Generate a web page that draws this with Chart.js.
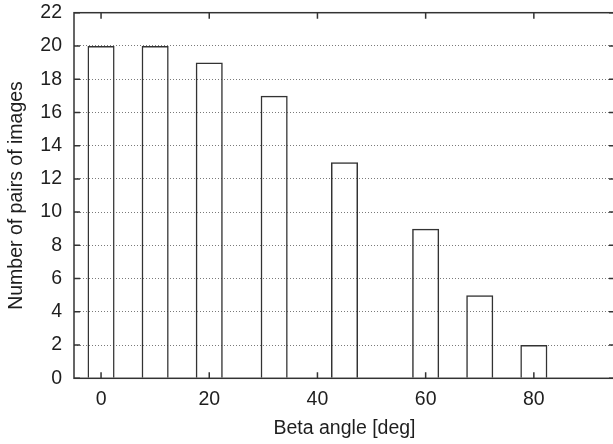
<!DOCTYPE html>
<html>
<head>
<meta charset="utf-8">
<script src="https://cdn.jsdelivr.net/npm/chart.js@4/dist/chart.umd.min.js"></script>
<style>
  html, body { margin: 0; padding: 0; background: #fff; overflow: hidden; }
  #wrap { width: 613px; height: 444px; overflow: hidden; position: relative; }
  canvas { display: block; }
</style>
</head>
<body>
<div id="wrap"><canvas id="c" width="640" height="444"></canvas></div>
<script>
// Histogram: number of image pairs per beta angle
const betaAngles = [0, 10, 20, 32, 45, 60, 70, 80];
const pairCounts = [20, 20, 19, 17, 13, 9, 5, 2];
const xTickValues = [0, 20, 40, 60, 80];
const yTickValues = [0, 2, 4, 6, 8, 10, 12, 14, 16, 18, 20, 22];

const FONT = { family: '"Liberation Sans", Arial, Helvetica, sans-serif', size: 19.5 };
const INK = '#1e1e1e';
const AXIS = '#333333';

// Frame on all four sides with inward-pointing tick marks
const framePlugin = {
  id: 'frame',
  afterDatasetsDraw(chart) {
    const { ctx, chartArea: a, scales: { x, y } } = chart;
    const len = 6;
    ctx.save();
    ctx.strokeStyle = AXIS;
    ctx.lineWidth = 1.5;
    ctx.strokeRect(a.left, a.top, a.right - a.left, a.bottom - a.top);
    ctx.beginPath();
    xTickValues.forEach(v => {
      const px = x.getPixelForValue(v);
      ctx.moveTo(px, a.bottom); ctx.lineTo(px, a.bottom - len);
      ctx.moveTo(px, a.top); ctx.lineTo(px, a.top + len);
    });
    yTickValues.forEach(v => {
      const py = y.getPixelForValue(v);
      ctx.moveTo(a.left, py); ctx.lineTo(a.left + len, py);
      ctx.moveTo(a.right, py); ctx.lineTo(a.right - len, py);
    });
    ctx.stroke();
    ctx.restore();
  }
};

new Chart(document.getElementById('c'), {
  type: 'bar',
  data: {
    datasets: [{
      data: betaAngles.map((a, i) => ({ x: a, y: pairCounts[i] })),
      backgroundColor: 'rgba(255,255,255,0)',
      borderColor: AXIS,
      borderWidth: 1.5,
      barPercentage: 0.5,
      categoryPercentage: 1
    }]
  },
  options: {
    responsive: false,
    animation: false,
    devicePixelRatio: 1,
    layout: { padding: { top: 12.7, right: 25, bottom: 0, left: 0 } },
    plugins: { legend: { display: false }, tooltip: { enabled: false } },
    scales: {
      x: {
        type: 'linear',
        min: -5,
        max: 95,
        offset: false,
        afterBuildTicks: s => { s.ticks = xTickValues.map(v => ({ value: v })); },
        afterFit: s => { s.height = 444 - 378.3; s.paddingLeft = 0; s.paddingRight = 0; },
        grid: { display: false, drawTicks: false },
        border: { display: false },
        ticks: { font: FONT, color: INK, padding: 10, maxRotation: 0 },
        title: { display: true, text: 'Beta angle [deg]', font: FONT, color: INK, padding: { top: 0, bottom: 4 } }
      },
      y: {
        min: 0,
        max: 22,
        afterBuildTicks: s => { s.ticks = yTickValues.map(v => ({ value: v })); },
        afterFit: s => { s.width = 74; s.paddingTop = 0; s.paddingBottom = 0; },
        grid: {
          drawTicks: false,
          color: ctx => (ctx.tick && (ctx.tick.value === 0 || ctx.tick.value === 22)) ? 'rgba(0,0,0,0)' : '#7a7a7a',
          lineWidth: 1
        },
        border: { display: false, dash: [1, 2] },
        ticks: { font: FONT, color: INK, padding: 12 },
        title: { display: true, text: 'Number of pairs of images', font: FONT, color: INK, padding: { top: 5, bottom: 0 } }
      }
    }
  },
  plugins: [framePlugin]
});
</script>
</body>
</html>
